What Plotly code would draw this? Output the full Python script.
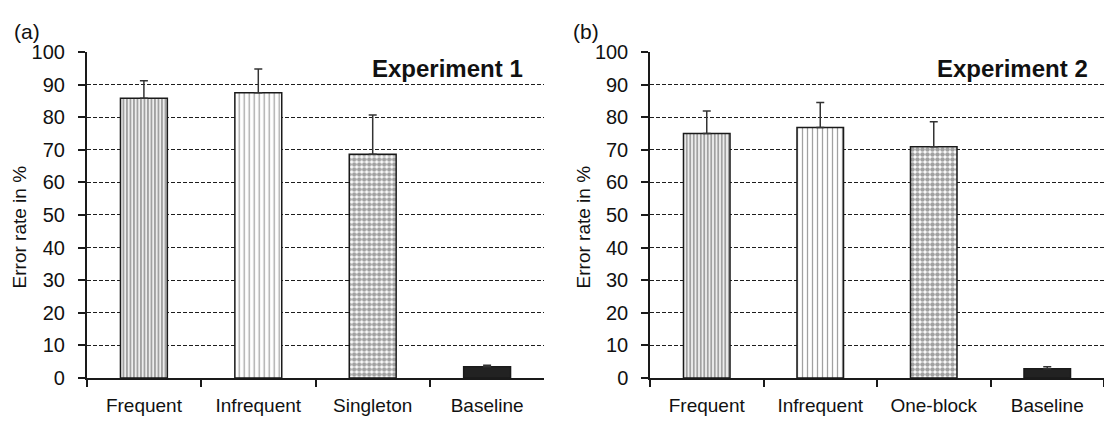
import plotly.graph_objects as go

# Error rates (%) and upward error bars for each experiment
categories_a = ["Frequent", "Infrequent", "Singleton", "Baseline"]
error_a = [85.8, 87.5, 68.6, 3.4]
err_up_a = [5.4, 7.3, 12.1, 0.5]

categories_b = ["Frequent", "Infrequent", "One-block", "Baseline"]
error_b = [75.0, 76.8, 70.9, 2.8]
err_up_b = [6.9, 7.7, 7.7, 0.6]

y_ticks = [0, 10, 20, 30, 40, 50, 60, 70, 80, 90, 100]

W, H = 1104, 434
FONT = "Liberation Sans, Arial, sans-serif"
INK = "#1a1a1a"

# Fill styles per bar: dense stripes, sparse stripes, dots, solid
pattern_shapes = ["|", "|", ".", ""]
pattern_sizes = [3.5, 5, 5, 5]
pattern_solidity = [0.6, 0.26, 0.65, 0.3]
bar_colors = ["white", "white", "white", "#222222"]


def bar_trace(cats, vals, ups, xa, ya):
    return go.Bar(
        x=cats, y=vals, xaxis=xa, yaxis=ya, width=0.41,
        marker=dict(
            color=bar_colors,
            line=dict(color=INK, width=1.5),
            pattern=dict(shape=pattern_shapes, size=pattern_sizes,
                         solidity=pattern_solidity, fgcolor=INK,
                         bgcolor="white", fillmode="overlay"),
        ),
        error_y=dict(type="data", symmetric=False, array=ups,
                     arrayminus=[0] * len(ups), color="#333333",
                     thickness=1.5, width=4),
        showlegend=False,
    )


fig = go.Figure()
fig.add_trace(bar_trace(categories_a, error_a, err_up_a, "x", "y"))
fig.add_trace(bar_trace(categories_b, error_b, err_up_b, "x2", "y2"))

y_bottom = (H - 386.5) / H
y_top = (H - 43.2) / H

xaxis_common = dict(
    type="category", range=[-0.5, 3.5], showgrid=False, zeroline=False,
    showline=True, linecolor=INK, linewidth=1.5,
    ticks="outside", tickson="boundaries", ticklen=7, tickwidth=1.5,
    tickcolor=INK, ticklabelstandoff=10,
    tickfont=dict(family=FONT, size=19, color="#111111"),
)
yaxis_common = dict(
    range=[0, 100], tickvals=y_ticks, showgrid=True, gridcolor="#1e1e1e",
    gridwidth=1.3, griddash="4px,2px", zeroline=False,
    showline=True, linecolor=INK, linewidth=1.5,
    ticks="outside", ticklen=7, tickwidth=1.5, tickcolor=INK,
    ticklabelstandoff=9,
    tickfont=dict(family=FONT, size=20, color="#111111"),
)

fig.update_layout(
    width=W, height=H, margin=dict(l=0, r=0, t=0, b=0),
    paper_bgcolor="white", plot_bgcolor="white", bargap=0.59,
    xaxis=dict(domain=[86.7 / W, 544.3 / W], anchor="y", **xaxis_common),
    yaxis=dict(domain=[y_bottom, y_top], anchor="x", **yaxis_common),
    xaxis2=dict(domain=[650 / W, 1.0], anchor="y2", **xaxis_common),
    yaxis2=dict(domain=[y_bottom, y_top], anchor="x2", **yaxis_common),
)


def px_x(v):
    return v / W


def px_y(v):
    return 1 - v / H


notes = [
    dict(text="(a)", x=px_x(12), y=px_y(22), xanchor="left", size=21, bold=False),
    dict(text="(b)", x=px_x(571), y=px_y(22), xanchor="left", size=21, bold=False),
    dict(text="Experiment 1", x=px_x(525), y=px_y(61), xanchor="right", size=24, bold=True),
    dict(text="Experiment 2", x=px_x(1090), y=px_y(61), xanchor="right", size=24, bold=True),
]
for n in notes:
    txt = f"<b>{n['text']}</b>" if n["bold"] else n["text"]
    fig.add_annotation(text=txt, x=n["x"], y=n["y"], xref="paper", yref="paper",
                       xanchor=n["xanchor"], yanchor="middle", showarrow=False,
                       font=dict(family=FONT, size=n["size"], color="#111111"))

for xc in (19, 583):
    fig.add_annotation(text="Error rate in %", x=px_x(xc), y=px_y(228),
                       xref="paper", yref="paper", xanchor="center",
                       yanchor="middle", textangle=-90, showarrow=False,
                       font=dict(family=FONT, size=19, color="#111111"))

fig.write_html("out.html")
